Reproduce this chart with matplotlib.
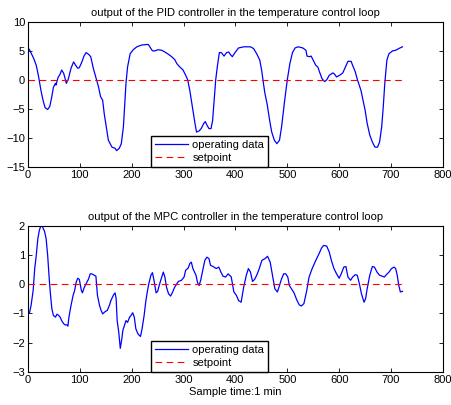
import numpy as np
import matplotlib
matplotlib.use("Agg")
import matplotlib.pyplot as plt

# PID loop output, read at irregular sample times
pid_t = [0, 3, 11, 16, 20, 25, 29, 33, 38, 42, 46, 49, 53, 54, 58, 62, 65, 69, 74, 78,
         83, 88, 92, 96, 99, 104, 108, 112, 117, 121, 126, 131, 136, 140, 144, 147, 151,
         155, 162, 168, 171, 176, 180, 184, 187, 189, 192, 197, 203, 210, 219, 229, 232,
         235, 240, 245, 251, 258, 264, 271, 277, 283, 287, 293, 299, 304, 308, 312, 317,
         322, 325, 330, 334, 339, 342, 345, 349, 353, 356, 359, 362, 365, 369, 373, 378,
         383, 387, 390, 394, 400, 406, 416, 429, 435, 441, 447, 451, 454, 457, 461, 466,
         470, 475, 480, 485, 489, 495, 500, 505, 510, 515, 521, 530, 536, 538, 543, 546,
         550, 555, 559, 562, 567, 572, 576, 581, 588, 591, 595, 601, 607, 612, 617, 623,
         626, 631, 635, 642, 646, 650, 654, 659, 664, 669, 674, 678, 682, 685, 688, 692,
         696, 703, 709, 715, 722]
pid_y = [5.5, 5.2, 3.7, 2.5, 0.8, -1.8, -3.5, -4.8, -5.1, -4.6, -2.9, -1.3, -0.6, -0.9,
         0.4, 1.0, 1.7, 1.1, -0.6, 0.2, 2.0, 3.1, 2.5, 2.0, 2.1, 3.1, 4.1, 4.7, 4.4, 4.0,
         2.0, 0.4, -1.2, -2.9, -3.5, -5.8, -8.1, -10.4, -11.6, -11.8, -12.2, -11.8, -11.0,
         -8.1, -3.5, -0.6, 2.2, 4.5, 5.2, 5.7, 6.0, 6.1, 6.1, 5.7, 5.0, 5.0, 5.2, 5.1, 4.8,
         4.4, 4.0, 3.5, 2.8, 2.2, 1.7, 0.8, 0.0, -1.8, -4.7, -7.5, -9.0, -8.8, -8.4, -7.5,
         -7.2, -7.8, -8.4, -8.4, -7.0, -3.5, 0.0, 2.2, 4.7, 4.7, 4.1, 4.7, 4.8, 4.4, 4.0,
         4.8, 5.5, 5.7, 5.7, 5.4, 4.5, 3.4, 1.4, -0.6, -2.4, -4.1, -7.0, -9.0, -10.4,
         -11.0, -10.4, -8.1, -3.5, 0.0, 2.8, 4.7, 5.5, 5.7, 5.5, 5.1, 4.1, 4.0, 4.1, 3.4,
         2.5, 2.2, 1.4, 0.2, -0.3, 0.0, 0.8, 1.2, 1.0, 0.5, 0.8, 1.2, 2.2, 3.2, 3.2, 2.5,
         1.4, 0.1, -1.8, -3.5, -5.2, -7.5, -9.5, -10.7, -11.6, -11.6, -10.7, -8.1, -4.7,
         -0.6, 3.4, 4.5, 5.0, 5.1, 5.4, 5.7]

# MPC loop output
mpc_t = [0, 3, 6, 10, 13, 16, 19, 22, 25, 28, 32, 35, 38, 41, 43, 46, 49, 53, 56, 59,
         62, 65, 69, 72, 75, 77, 79, 83, 87, 90, 93, 96, 99, 103, 105, 108, 112, 117, 120,
         123, 128, 131, 134, 138, 141, 144, 149, 153, 157, 160, 165, 168, 170, 172, 175,
         178, 181, 183, 186, 189, 192, 196, 199, 202, 205, 208, 212, 215, 217, 220, 224,
         227, 230, 233, 237, 240, 243, 247, 250, 253, 256, 261, 264, 267, 271, 275, 279,
         283, 290, 296, 301, 304, 309, 312, 315, 318, 324, 327, 330, 333, 337, 341, 345,
         349, 352, 357, 363, 368, 372, 376, 381, 386, 392, 397, 402, 406, 411, 416, 421,
         425, 429, 433, 437, 441, 446, 451, 457, 462, 467, 472, 476, 481, 485, 489, 493,
         497, 501, 504, 508, 513, 518, 523, 527, 532, 537, 542, 548, 555, 561, 566, 570,
         576, 581, 585, 590, 595, 600, 604, 609, 613, 617, 622, 626, 631, 635, 639, 643,
         648, 651, 654, 659, 664, 668, 673, 678, 683, 687, 691, 696, 701, 706, 709, 712,
         715, 718, 722]
mpc_y = [-0.96, -0.98, -0.73, -0.22, 0.53, 0.98, 1.55, 1.84, 2.0, 1.96, 1.8, 1.55, 0.98,
         0.18, -0.27, -0.84, -1.07, -1.13, -1.03, -1.07, -1.13, -1.25, -1.36, -1.4, -1.39,
         -1.44, -1.13, -0.73, -0.39, -0.22, 0.07, 0.2, 0.16, -0.22, -0.3, -0.14, 0.01,
         0.18, 0.35, 0.35, 0.3, 0.27, -0.39, -0.73, -0.9, -1.02, -0.94, -0.9, -0.73,
         -0.56, -0.37, -0.3, -0.5, -1.25, -1.64, -2.2, -1.87, -1.58, -1.41, -1.25, -1.31,
         -1.13, -1.07, -0.98, -1.13, -1.53, -1.7, -1.76, -1.79, -1.53, -1.07, -0.62,
         -0.27, 0.01, 0.3, 0.39, 0.13, -0.3, -0.25, -0.05, 0.13, 0.41, 0.24, -0.1, -0.33,
         -0.41, -0.27, -0.1, 0.09, 0.13, 0.24, 0.47, 0.55, 0.7, 0.75, 0.53, 0.3, 0.05,
         -0.05, 0.13, 0.47, 0.81, 0.92, 0.87, 0.64, 0.6, 0.53, 0.58, 0.41, 0.27, 0.24,
         0.35, 0.24, -0.27, -0.39, -0.56, -0.62, -0.1, 0.3, 0.53, 0.41, 0.09, 0.16, 0.3,
         0.53, 0.81, 0.87, 0.95, 0.75, 0.24, -0.16, -0.27, -0.05, 0.18, 0.35, 0.35, 0.24,
         -0.05, -0.16, -0.3, -0.53, -0.71, -0.75, -0.67, -0.27, 0.24, 0.53, 0.81, 1.03,
         1.23, 1.32, 1.3, 1.09, 0.81, 0.53, 0.35, 0.2, 0.35, 0.58, 0.6, 0.24, 0.13, 0.24,
         0.32, 0.3, 0.01, -0.33, -0.62, -0.5, -0.16, 0.3, 0.6, 0.58, 0.41, 0.3, 0.27,
         0.24, 0.32, 0.41, 0.53, 0.58, 0.53, 0.3, -0.05, -0.27, -0.25]

setpoint_t = [0, 722]
setpoint_y = [0, 0]

plt.rcParams["font.family"] = ["Liberation Sans", "DejaVu Sans"]

fig = plt.figure(figsize=(4.51, 4.05), dpi=100)
ax1 = fig.add_axes([0.062, 0.588, 0.920, 0.358])
ax2 = fig.add_axes([0.062, 0.082, 0.920, 0.361])


def style(ax, ylim, yticks, title):
    ax.set_xlim(0, 800)
    ax.set_ylim(*ylim)
    ax.set_xticks(range(0, 801, 100))
    ax.set_yticks(yticks)
    ax.tick_params(direction="in", top=True, right=True, labelsize=8,
                   length=3, width=0.6, pad=2)
    for s in ax.spines.values():
        s.set_linewidth(0.8)
    ax.set_title(title, fontsize=8, pad=4)
    leg = ax.legend(loc="lower left", bbox_to_anchor=(0.296, 0.0),
                    borderaxespad=0, fontsize=8, fancybox=False,
                    framealpha=1, edgecolor="black", handlelength=3.0,
                    handletextpad=0.4, borderpad=0.35, labelspacing=0.3)
    leg.get_frame().set_linewidth(1.0)


ax1.plot(pid_t, pid_y, color="#0000ff", lw=0.9, label="operating data")
ax1.plot(setpoint_t, setpoint_y, color="#ff0000", lw=0.8, ls=(0, (6, 4)), label="setpoint")
style(ax1, (-15, 10), range(-15, 11, 5),
      "output of the PID controller in the temperature control loop")

ax2.plot(mpc_t, mpc_y, color="#0000ff", lw=0.9, label="operating data")
ax2.plot(setpoint_t, setpoint_y, color="#ff0000", lw=0.8, ls=(0, (6, 4)), label="setpoint")
style(ax2, (-3, 2), range(-3, 3),
      "output of the MPC controller in the temperature control loop")
ax2.set_xlabel("Sample time:1 min", fontsize=8, labelpad=2)

fig.savefig("out.png", dpi=100)
